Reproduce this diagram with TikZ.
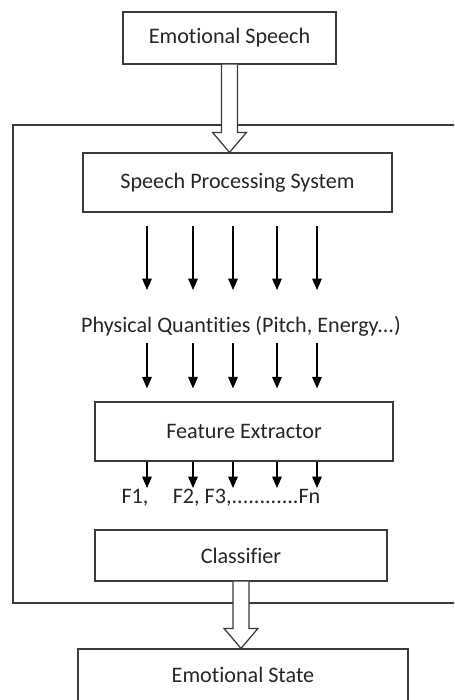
\documentclass[tikz,border=0pt]{standalone}
\usepackage{fontspec}
\setmainfont[Ligatures=NoCommon]{Carlito}
\usetikzlibrary{arrows.meta, positioning, calc}

\definecolor{linegray}{HTML}{3A3A3A}
\definecolor{textgray}{HTML}{262626}
\def\px{0.02cm}

\tikzset{
  block/.style={draw=linegray, line width=0.7pt, fill=white, inner sep=0pt,
    text=textgray, font=\fontsize{12.6}{15}\selectfont},
  plain/.style={inner sep=0pt, text=textgray, font=\fontsize{12.6}{15}\selectfont},
  fine/.style={-{Triangle[width=5.5pt,length=6.5pt]}, line width=0.6pt, black},
  hollow/.style={draw=linegray, line width=0.7pt, fill=white, line join=miter},
}

% hollow block arrow from #1 (shaft start) to #2 (tip)
\newcommand{\bigarrow}[2]{%
  \draw[hollow] ($(#1)+(-8,0)$) -- ($(#2)+(-8,-20)$) -- ($(#2)+(-17,-20)$)
    -- (#2) -- ($(#2)+(17,-20)$) -- ($(#2)+(8,-20)$) -- ($(#1)+(8,0)$);}

\begin{document}
\begin{tikzpicture}[x=\px, y=-\px]
  \path[use as bounding box, clip] (0,0) rectangle (454,700);

  % outer frame
  \draw[draw=linegray, line width=0.7pt] (13,125) rectangle (470,603);

  \node[block, minimum width=213*\px, minimum height=52*\px] (speech) at (229.5,38) {Emotional Speech};
  \node[block, minimum width=309*\px, minimum height=59*\px] (sps) at (237.5,182.5) {Speech Processing System};
  \node[plain] (pq) at (241,326) {Physical Quantities (Pitch, Energy...)};
  \node[block, minimum width=298*\px, minimum height=59*\px] (fe) at (244,431.5) {Feature Extractor};
  \node[plain] (feats) at (221,498) {F1,\hspace{1.1em}F2, F3,............Fn};
  \node[block, minimum width=292*\px, minimum height=51*\px] (cls) at (241,555.5) {Classifier};
  \node[block, minimum width=330*\px, minimum height=52*\px] (state) at (243,675) {Emotional State};

  \bigarrow{speech.south}{sps.north -| speech.south}
  \bigarrow{cls.south}{state.north -| cls.south}

  \foreach \x in {147,193,233,277,317}{
    \draw[fine] ($(sps.south -| \x,0)+(0,13)$) -- ($(pq.center -| \x,0)+(0,-36)$);
    \draw[fine] ($(pq.center -| \x,0)+(0,17)$) -- ($(fe.north -| \x,0)+(0,-13)$);
    \draw[fine] (fe.south -| \x,0) -- ($(feats.center -| \x,0)+(0,-10)$);
  }
\end{tikzpicture}
\end{document}
